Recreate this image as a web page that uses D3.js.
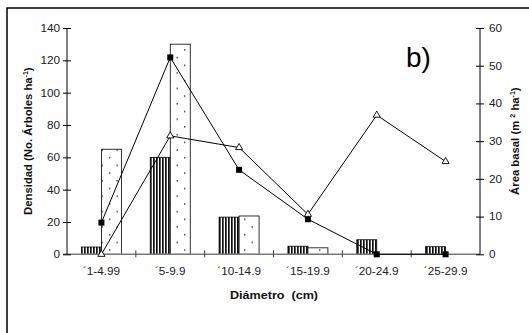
<!DOCTYPE html>
<html>
<head>
<meta charset="utf-8">
<script src="https://cdn.jsdelivr.net/npm/d3@7"></script>
<style>
  html, body { margin: 0; padding: 0; background: #fff; }
  svg { display: block; font-family: "Liberation Sans", Arial, sans-serif; }
</style>
</head>
<body>
<svg id="chart" width="529" height="333"></svg>
<script>
// Diameter classes
const clases = ["´1-4.99", "´5-9.9", "´10-14.9", "´15-19.9", "´20-24.9", "´25-29.9"];
// Bars (left axis, No. árboles ha-1)
const barrasRayadas = [4.5, 60, 23, 5, 9, 4.7];
const barrasPunteadas = [65, 130, 23.7, 4, 0, 0];
// Lines (right axis, m2 ha-1)
const lineaCuadros = [8.4, 52.2, 22.4, 9.3, 0, 0];
const lineaTriangulos = [0, 31.4, 28.3, 10.6, 36.9, 24.6];
// Tick values
const ticksIzq = [0, 20, 40, 60, 80, 100, 120, 140];
const ticksDer = [0, 10, 20, 30, 40, 50, 60];

const svg = d3.select("#chart");
const pLeft = 67, pRight = 480, pTop = 28, pBottom = 254.3;
const sx = 1.12; // horizontal text stretch
const fs = 10.5;  // tick label size

const x = d3.scaleBand().domain(clases).range([pLeft, pRight]).padding(0);
const yL = d3.scaleLinear().domain([0, 140]).range([pBottom, pTop]);
const yR = d3.scaleLinear().domain([0, 60]).range([pBottom, pTop]);

// patterns
const defs = svg.append("defs");
const pStripe = defs.append("pattern").attr("id", "rayas")
  .attr("patternUnits", "userSpaceOnUse").attr("width", 3).attr("height", 4);
pStripe.append("rect").attr("width", 3).attr("height", 4).attr("fill", "#fff");
pStripe.append("rect").attr("x", 0).attr("width", 1.7).attr("height", 4).attr("fill", "#111");

const pDot = defs.append("pattern").attr("id", "puntos")
  .attr("patternUnits", "userSpaceOnUse").attr("width", 15).attr("height", 15.4)
  .attr("x", 2).attr("y", 0);
pDot.append("rect").attr("width", 15).attr("height", 15.4).attr("fill", "#fff");
pDot.append("rect").attr("x", 2).attr("y", 3).attr("width", 1.4).attr("height", 1.4).attr("fill", "#333");
pDot.append("rect").attr("x", 9.5).attr("y", 10.7).attr("width", 1.4).attr("height", 1.4).attr("fill", "#333");

// outer frame
svg.append("rect").attr("x", 7).attr("y", 8).attr("width", 560).attr("height", 360)
  .attr("fill", "none").attr("stroke", "#000").attr("stroke-width", 1.5);

const bw = 20;
// striped bars
svg.append("g").selectAll("rect").data(barrasRayadas).join("rect")
  .attr("x", (d, i) => x(clases[i]) + x.bandwidth() / 2 - bw)
  .attr("y", d => yL(d))
  .attr("width", bw)
  .attr("height", d => pBottom - yL(d))
  .attr("fill", "url(#rayas)")
  .attr("stroke", "#000").attr("stroke-width", 0.8)
  .style("display", d => d > 0 ? null : "none");

// dotted bars
svg.append("g").selectAll("rect").data(barrasPunteadas).join("rect")
  .attr("x", (d, i) => x(clases[i]) + x.bandwidth() / 2)
  .attr("y", d => yL(d))
  .attr("width", bw)
  .attr("height", d => pBottom - yL(d))
  .attr("fill", "url(#puntos)")
  .attr("stroke", "#000").attr("stroke-width", 0.8)
  .style("display", d => d > 0 ? null : "none");

// x axis baseline
svg.append("line").attr("x1", pLeft - 4).attr("x2", pRight)
  .attr("y1", pBottom).attr("y2", pBottom)
  .attr("stroke", "#7a7a7a").attr("stroke-width", 1.6);

// x ticks between classes
const bounds = clases.slice(1).map(c => x(c));
svg.append("g").selectAll("line").data(bounds).join("line")
  .attr("x1", d => d).attr("x2", d => d)
  .attr("y1", pBottom - 4).attr("y2", pBottom + 3)
  .attr("stroke", "#444").attr("stroke-width", 1);

// x tick labels
svg.append("g").selectAll("text").data(clases).join("text")
  .attr("transform", d => `translate(${x(d) + x.bandwidth() / 2},274.5) scale(${sx},1)`)
  .attr("text-anchor", "middle")
  .attr("font-size", fs).attr("fill", "#222")
  .text(d => d);

// left axis
const gL = svg.append("g").attr("transform", `translate(${pLeft},0)`)
  .call(d3.axisLeft(yL).tickValues(ticksIzq).tickSize(4).tickPadding(4));
gL.select(".domain").attr("stroke", "#000").attr("d", `M0,${pTop}V${pBottom}`);
gL.selectAll(".tick line").attr("x1", 4).attr("stroke", "#000");
gL.selectAll(".tick text").attr("font-size", fs).attr("fill", "#222")
  .attr("font-family", "Liberation Sans, Arial, sans-serif")
  .attr("transform", `scale(${sx},1)`)
  .attr("x", -7 / sx);

// right axis
const gR = svg.append("g").attr("transform", `translate(${pRight},0)`)
  .call(d3.axisRight(yR).tickValues(ticksDer).tickSize(4).tickPadding(4));
gR.select(".domain").attr("stroke", "#000").attr("d", `M0,${pTop}V${pBottom}`);
gR.selectAll(".tick line").attr("x1", -4).attr("stroke", "#000");
gR.selectAll(".tick text").attr("font-size", fs).attr("fill", "#222")
  .attr("font-family", "Liberation Sans, Arial, sans-serif")
  .attr("transform", `scale(${sx},1)`)
  .attr("x", 9 / sx);

// lines
const cx = (i) => x(clases[i]) + x.bandwidth() / 2;
const line = d3.line().x((d, i) => cx(i)).y(d => yR(d));
svg.append("path").datum(lineaCuadros).attr("d", line)
  .attr("fill", "none").attr("stroke", "#000").attr("stroke-width", 1);
svg.append("path").datum(lineaTriangulos).attr("d", line)
  .attr("fill", "none").attr("stroke", "#000").attr("stroke-width", 1);

// square markers
svg.append("g").selectAll("rect").data(lineaCuadros).join("rect")
  .attr("x", (d, i) => cx(i) - 3).attr("y", d => yR(d) - 3)
  .attr("width", 6).attr("height", 6).attr("fill", "#000");

// triangle markers
const tri = d3.symbol().type(d3.symbolTriangle).size(22);
svg.append("g").selectAll("path").data(lineaTriangulos).join("path")
  .attr("transform", (d, i) => `translate(${cx(i)},${yR(d)})`)
  .attr("d", tri)
  .attr("fill", "#fff").attr("stroke", "#000").attr("stroke-width", 0.9);

// axis titles
svg.append("text")
  .attr("transform", `translate(274,299) scale(1.2,1)`)
  .attr("text-anchor", "middle").attr("font-size", 10.5).attr("font-weight", "bold")
  .attr("fill", "#111")
  .attr("xml:space", "preserve")
  .text("Diámetro  (cm)");

const tL = svg.append("text")
  .attr("transform", `translate(32,${(pTop + pBottom) / 2}) rotate(-90)`)
  .attr("text-anchor", "middle").attr("font-size", 11.3).attr("font-weight", "bold")
  .attr("fill", "#111");
tL.append("tspan").text("Densidad (No. Árboles ha");
tL.append("tspan").attr("font-size", 7).attr("dy", -4).text("-1");
tL.append("tspan").attr("dy", 4).text(")");

const tR = svg.append("text")
  .attr("transform", `translate(519,${(pTop + pBottom) / 2}) rotate(-90)`)
  .attr("text-anchor", "middle").attr("font-size", 11.3).attr("font-weight", "bold")
  .attr("fill", "#111");
tR.append("tspan").text("Área basal (m ");
tR.append("tspan").attr("font-size", 7).attr("dy", -4).text("2");
tR.append("tspan").attr("dy", 4).text(" ha");
tR.append("tspan").attr("font-size", 7).attr("dy", -4).text("-1");
tR.append("tspan").attr("dy", 4).text(")");

// panel tag
svg.append("text").attr("x", 406).attr("y", 67)
  .attr("font-size", 28).attr("fill", "#000").text("b)");
</script>
</body>
</html>
